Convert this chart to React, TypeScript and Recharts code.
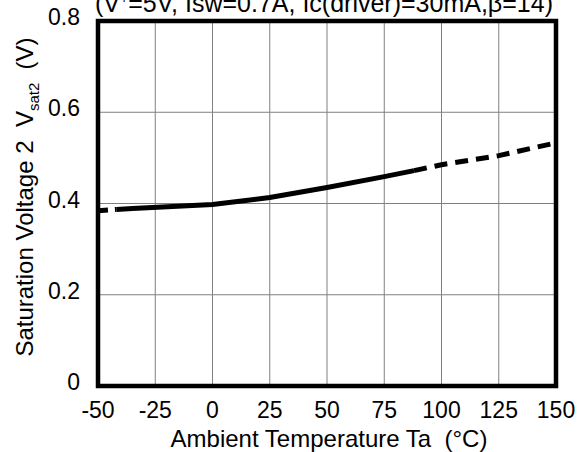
import React from 'react';
import { LineChart, Line, XAxis, YAxis, CartesianGrid, ReferenceArea, Customized } from 'recharts';

const temps = [-50, -42, -35, 0, 25, 50, 75, 88, 100, 125, 150];
const volts = [0.384, 0.387, 0.389, 0.398, 0.413, 0.435, 0.459, 0.472, 0.485, 0.505, 0.533];
const solidStart = -42;
const solidEnd = 88;
const xTicks = [-50, -25, 0, 25, 50, 75, 100, 125, 150];
const yTicks = [0, 0.2, 0.4, 0.6, 0.8];
const title = '=5V, Isw=0.7A, Ic(driver)=30mA,β=14)';

const data = temps.map((t, i) => ({
  t,
  left: t <= solidStart ? volts[i] : null,
  mid: t >= solidStart && t <= solidEnd ? volts[i] : null,
  right: t >= solidEnd ? volts[i] : null,
}));

const FONT = '"Liberation Sans", Arial, sans-serif';
const SP2 = '\u00a0\u00a0';

const Texts = () => (
  <g fontFamily={FONT} fill="#000">
    <text x={324} y={12} fontSize={25} textAnchor="middle">
      <tspan>(V</tspan>
      <tspan fontSize={14} dy={-9}>+</tspan>
      <tspan dy={9}>{title}</tspan>
    </text>
    <text x={329} y={447} fontSize={24} textAnchor="middle">{`Ambient Temperature Ta${SP2}(°C)`}</text>
    <text transform="translate(33,197) rotate(-90)" fontSize={24} textAnchor="middle">
      <tspan>{`Saturation Voltage 2${SP2}V`}</tspan>
      <tspan fontSize={15} dy={6}>sat2</tspan>
      <tspan dy={-6}>{`${SP2}(V)`}</tspan>
    </text>
  </g>
);

export default function App() {
  return (
    <div style={{ position: 'absolute', left: 0, top: 0 }}>
      <LineChart width={578} height={452} data={data} margin={{ top: 21, right: 22, bottom: 36, left: 0 }}>
        <CartesianGrid stroke="#808080" strokeWidth={1} verticalValues={xTicks} horizontalValues={yTicks} />
        <XAxis
          dataKey="t"
          type="number"
          domain={[-50, 150]}
          ticks={xTicks}
          axisLine={false}
          tickLine={false}
          tickMargin={10}
          tick={{ fill: '#000', fontSize: 23, fontFamily: FONT }}
          height={30}
        />
        <YAxis
          type="number"
          domain={[0, 0.8]}
          ticks={yTicks}
          axisLine={false}
          tickLine={false}
          tickMargin={12}
          tickFormatter={(v: number) => (v === 0 ? '0' : v.toFixed(1))}
          tick={{ fill: '#000', fontSize: 23, fontFamily: FONT, dy: -4 }}
          width={98}
        />
        <ReferenceArea x1={-50} x2={150} y1={0} y2={0.8} fill="none" stroke="#000" strokeWidth={4.5} ifOverflow="visible" />
        <Line dataKey="left" stroke="#000" strokeWidth={5} strokeDasharray="10 7" dot={false} isAnimationActive={false} connectNulls={false} />
        <Line dataKey="mid" stroke="#000" strokeWidth={5} dot={false} isAnimationActive={false} connectNulls={false} />
        <Line dataKey="right" stroke="#000" strokeWidth={5} strokeDasharray="13 8" dot={false} isAnimationActive={false} connectNulls={false} />
        <Customized component={Texts} />
      </LineChart>
    </div>
  );
}
